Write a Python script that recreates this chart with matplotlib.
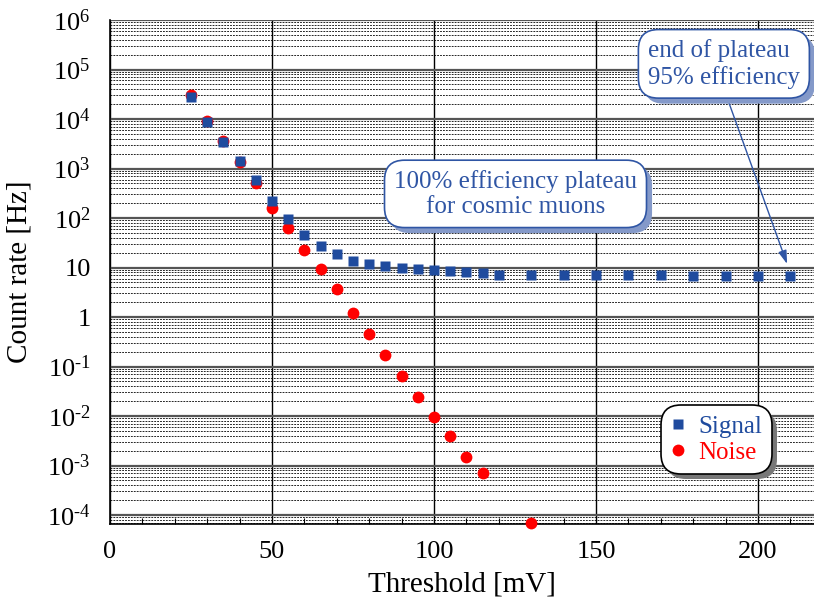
import matplotlib
matplotlib.use("Agg")
import matplotlib.pyplot as plt
import matplotlib.ticker as mticker
import matplotlib.patheffects as pe
import numpy as np

plt.rcParams['font.family'] = ['Liberation Serif', 'DejaVu Serif']
plt.rcParams['mathtext.fontset'] = 'custom'
plt.rcParams['mathtext.rm'] = 'Liberation Serif'
plt.rcParams['mathtext.it'] = 'Liberation Serif:italic'

# ---- data ----
signal_thr = [25, 30, 35, 40, 45, 50, 55, 60, 65, 70, 75, 80, 85, 90, 95, 100,
              105, 110, 115, 120, 130, 140, 150, 160, 170, 180, 190, 200, 210]
signal_rate = [2.75e4, 8.7e3, 3.5e3, 1.4e3, 590, 220, 94, 45, 27, 18.7, 13.3, 11.7,
               10.7, 9.8, 9.2, 9.0, 8.5, 8.0, 7.9, 7.0, 7.0, 7.0, 7.0, 7.0, 7.0,
               6.6, 6.6, 6.6, 6.6]
noise_thr = [25, 30, 35, 40, 45, 50, 55, 60, 65, 70, 75, 80, 85, 90, 95, 100,
             105, 110, 115, 130]
noise_rate = [3.0e4, 9.0e3, 3.6e3, 1.35e3, 520, 158, 63, 22.5, 9.3, 3.7, 1.23, 0.45,
              0.174, 0.065, 0.024, 0.0095, 0.0040, 0.0015, 7.0e-4, 6.9e-5]

x_ticks = [0, 50, 100, 150, 200]
y_ticks = [1e-4, 1e-3, 1e-2, 1e-1, 1, 10, 1e2, 1e3, 1e4, 1e5, 1e6]
y_tick_labels = [r'$\mathregular{10^{\text{-}4}}$', r'$\mathregular{10^{\text{-}3}}$',
                 r'$\mathregular{10^{\text{-}2}}$', r'$\mathregular{10^{\text{-}1}}$',
                 '1', '10', r'$\mathregular{10^{2}}$', r'$\mathregular{10^{3}}$',
                 r'$\mathregular{10^{4}}$', r'$\mathregular{10^{5}}$',
                 r'$\mathregular{10^{6}}$']

BLUE = '#1f4b9e'
TXTBLUE = '#2f55a4'
RED = '#ff0000'

fig = plt.figure(figsize=(8.14, 6.04), dpi=100)
ax = fig.add_axes([110 / 814, 80 / 604, 704 / 814, 504 / 604])

ax.set_yscale('log')
ax.set_xlim(0, 217.3)
ax.set_ylim(6.6e-5, 1e6)

ax.plot(noise_thr, noise_rate, 'o', color=RED, ms=8.5, mec='none',
        label='Noise', zorder=3, clip_on=False)
ax.plot(signal_thr, signal_rate, 's', color=BLUE, ms=7.3, mec='none',
        label='Signal', zorder=4, clip_on=False)

# ticks
ax.set_xticks(x_ticks)
ax.xaxis.set_minor_locator(mticker.MultipleLocator(10))
ax.set_yticks(y_ticks)
ax.set_yticklabels(y_tick_labels)
ax.yaxis.set_minor_locator(mticker.LogLocator(base=10, subs=np.arange(2, 10), numticks=20))
ax.yaxis.set_minor_formatter(mticker.NullFormatter())
ax.tick_params(axis='x', which='major', direction='in', length=0, labelsize=19, pad=12)
ax.tick_params(axis='x', which='minor', direction='in', length=4, width=0.8)
ax.tick_params(axis='y', which='both', length=0, labelsize=19, pad=14)

# grid
ax.xaxis.grid(True, which='major', color='black', lw=1.0, ls='-')
ax.yaxis.grid(True, which='major', color='#555555', lw=1.6, ls='-')
ax.yaxis.grid(True, which='minor', color='black', lw=0.6, ls=(0, (2.2, 1.3)))
ax.set_axisbelow(True)

for s in ['top', 'right']:
    ax.spines[s].set_visible(False)
for s in ['left', 'bottom']:
    ax.spines[s].set_color('black')
    ax.spines[s].set_linewidth(1.2)

ax.set_xlabel('Threshold [mV]', fontsize=21, labelpad=6)
ax.set_ylabel('Count rate [Hz]', fontsize=21, labelpad=10)

# annotations
shadow = [pe.SimplePatchShadow(offset=(4, -4), shadow_rgbFace='#8499c9', alpha=1.0),
          pe.Normal()]
t1 = ax.text(0.872, 0.913, 'end of plateau\n95% efficiency', transform=ax.transAxes,
             ha='center', va='center', multialignment='left', fontsize=18,
             color=TXTBLUE, zorder=6,
             bbox=dict(boxstyle='round,pad=0.38,rounding_size=0.8', fc='white',
                       ec=TXTBLUE, lw=1.2))
t1.get_bbox_patch().set_path_effects(shadow)

t2 = ax.text(0.576, 0.655, '100% efficiency plateau\nfor cosmic muons',
             transform=ax.transAxes, ha='center', va='center',
             multialignment='center', fontsize=18, color=TXTBLUE, zorder=6,
             bbox=dict(boxstyle='round,pad=0.38,rounding_size=0.8', fc='white',
                       ec=TXTBLUE, lw=1.2))
t2.get_bbox_patch().set_path_effects(shadow)

ax.annotate('', xy=(209, 11.8), xycoords='data', xytext=(0.876, 0.848),
            textcoords='axes fraction', zorder=5,
            arrowprops=dict(arrowstyle='-|>,head_length=0.8,head_width=0.25',
                            color=TXTBLUE, lw=1.0, shrinkA=0, shrinkB=0))

# legend
handles, labels = ax.get_legend_handles_labels()
leg = ax.legend([handles[1], handles[0]], ['Signal', 'Noise'], loc='upper left',
                bbox_to_anchor=(0.782, 0.236), fontsize=18, frameon=True,
                fancybox=True, shadow=False, framealpha=1.0, facecolor='white',
                handlelength=0.6, handletextpad=0.5,
                borderpad=0.4, labelspacing=0.15, borderaxespad=0)
leg.get_texts()[0].set_color(BLUE)
leg.get_texts()[1].set_color(RED)
frame = leg.get_frame()
frame.set_edgecolor('black')
frame.set_linewidth(1.2)
frame.set_boxstyle('round,pad=0,rounding_size=0.8')
frame.set_path_effects([pe.SimplePatchShadow(offset=(4, -4), shadow_rgbFace='#777777', alpha=1.0),
                        pe.Normal()])
leg.set_zorder(7)

fig.savefig('out.png', dpi=100)
